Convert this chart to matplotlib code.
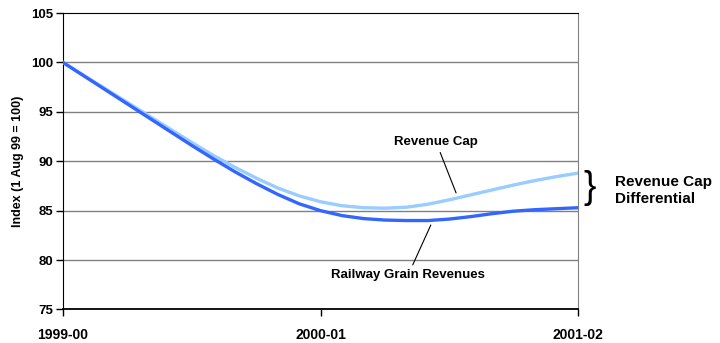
import matplotlib.pyplot as plt

plt.rcParams['font.family'] = ['Liberation Sans', 'DejaVu Sans']
plt.rcParams['font.weight'] = 'bold'

# Meses desde ago/1999 (em anos) e índices lidos mês a mês
years = [m / 12 for m in range(25)]
railway_revenues = [100, 98.6, 97.2, 95.8, 94.4, 93.0, 91.6, 90.25, 88.95, 87.75,
                    86.65, 85.7, 85.0, 84.5, 84.2, 84.05, 84.0, 84.0, 84.15, 84.4,
                    84.7, 84.95, 85.1, 85.2, 85.3]
revenue_cap = [100, 98.65, 97.3, 95.95, 94.6, 93.25, 91.9, 90.6, 89.4, 88.3,
               87.3, 86.5, 85.9, 85.5, 85.3, 85.25, 85.35, 85.65, 86.1, 86.6,
               87.1, 87.6, 88.05, 88.45, 88.8]
x_labels = ['1999-00', '2000-01', '2001-02']
y_ticks = [75, 80, 85, 90, 95, 100, 105]

fig = plt.figure(figsize=(7.2, 3.43), dpi=100)
ax = fig.add_axes([0.0875, 0.0977, 0.7155, 0.8643])

for y in y_ticks[1:-1]:
    ax.axhline(y, color='#808080', lw=1.0, zorder=1)

ax.plot(years, revenue_cap, color='#99CCFF', lw=2.4, zorder=3)
ax.plot(years, railway_revenues, color='#3366FF', lw=2.4, zorder=4)

ax.set_xlim(0, 2)
ax.set_ylim(75, 105)
ax.set_xticks([0, 1, 2])
ax.set_xticklabels(x_labels, fontsize=10, fontweight='bold')
ax.set_yticks(y_ticks)
ax.set_yticklabels([str(v) for v in y_ticks], fontsize=9.5, fontweight='bold')
ax.tick_params(axis='y', direction='out', length=5, width=1, pad=2)
ax.tick_params(axis='x', direction='out', length=5, width=1, pad=8)
ax.set_ylabel('Index (1 Aug 99 = 100)', fontsize=9, fontweight='bold', labelpad=5)

ax.spines['left'].set_color('black')
ax.spines['bottom'].set_color('black')
ax.spines['bottom'].set_linewidth(1.3)
ax.spines['top'].set_color('black')
ax.spines['right'].set_color('#808080')

# Rótulos das séries com linhas de chamada
ax.annotate('Revenue Cap', xy=(1.526, 86.8), xytext=(1.449, 91.3),
            fontsize=9.5, fontweight='bold', ha='center', va='bottom',
            arrowprops=dict(arrowstyle='-', color='black', lw=0.8,
                            shrinkA=1, shrinkB=0))
ax.annotate('Railway Grain Revenues', xy=(1.428, 83.55), xytext=(1.34, 79.1),
            fontsize=9.5, fontweight='bold', ha='center', va='top',
            arrowprops=dict(arrowstyle='-', color='black', lw=0.8,
                            shrinkA=1, shrinkB=0))

# Chave indicando o diferencial
fig.text(0.811, 0.452, '}', fontsize=27, fontweight='normal', ha='left', va='center')
fig.text(0.854, 0.445, 'Revenue Cap\nDifferential', fontsize=11, fontweight='bold',
         ha='left', va='center', linespacing=1.25)

fig.savefig('out.png', dpi=100)
